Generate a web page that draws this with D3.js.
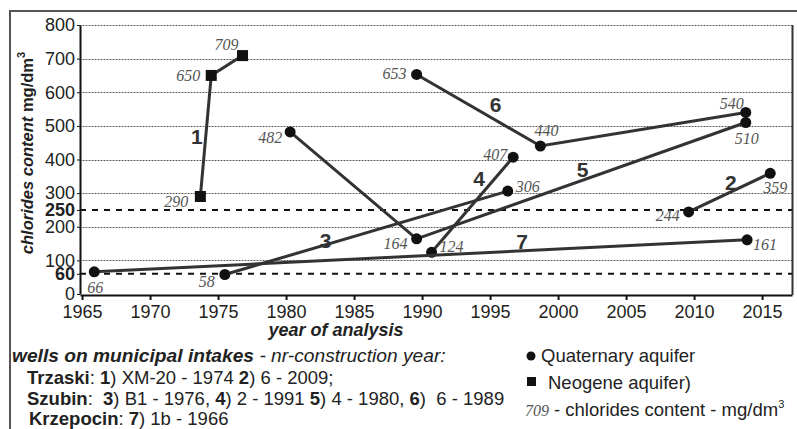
<!DOCTYPE html>
<html><head><meta charset="utf-8">
<script src="https://cdn.jsdelivr.net/npm/d3@7"></script>
<style>
body{margin:0;background:#fff;}
svg{display:block;}
text{font-family:"Liberation Sans",Arial,sans-serif;}
.val{font-family:"Liberation Serif","Times New Roman",serif;font-style:italic;fill:#555;font-size:16px;}
</style></head>
<body>
<svg id="chart" width="797" height="429"></svg>
<script>
// ---- data ----
const xTicks = [1965,1970,1975,1980,1985,1990,1995,2000,2005,2010,2015];
const yTicks = [0,100,200,300,400,500,600,700,800];
const limitLines = [60,250];
const seriesIds = ["1","2","3","4","5","6","7"];
const seriesAquifer = ["neogene","quaternary","quaternary","quaternary","quaternary","quaternary","quaternary"];
const s1Years = [1973.7,1974.5,1976.8], s1Values = [290,650,709];
const s2Years = [2009.6,2015.6],        s2Values = [244,359];
const s3Years = [1975.5,1996.3],        s3Values = [58,306];
const s4Years = [1990.7,1996.7],        s4Values = [124,407];
const s5Years = [1980.3,1989.6,2013.8], s5Values = [482,164,510];
const s6Years = [1989.6,1998.7,2013.8], s6Values = [653,440,540];
const s7Years = [1965.9,2013.9],        s7Values = [66,161];
// series number label anchors (year, value)
const numLabelYears  = [1973.45,2012.7,1982.9,1994.2,2001.8,1995.4,1997.35];
const numLabelValues = [467,330,160,342,369,562,155];

const allYears = [s1Years,s2Years,s3Years,s4Years,s5Years,s6Years,s7Years];
const allValues = [s1Values,s2Values,s3Values,s4Values,s5Values,s6Values,s7Values];
// value label placement offsets [dx, dy, anchor]
const labelOffsets = [
  [[-12,11,"end"],[-11,6,"end"],[-16,-6,"middle"]],
  [[-9,9,"end"],[5,20,"middle"]],
  [[-10,13,"end"],[8,1,"start"]],
  [[8,0,"start"],[-6,3,"end"]],
  [[-20,11,"middle"],[-9,10,"end"],[1,21,"middle"]],
  [[-10,5,"end"],[6,-10,"middle"],[-14,-3,"middle"]],
  [[-7,21,"start"],[6,10,"start"]]
];

const svg = d3.select("#chart");
const x = d3.scaleLinear().domain([1964.85,2017.2]).range([80,792]);
const y = d3.scaleLinear().domain([0,800]).range([294,25]);

// outer frame
svg.append("path").attr("d","M10,429 V11 H797").attr("fill","none").attr("stroke","#555").attr("stroke-width",2);

// gridlines: light solid base with darker dots on top
const gridVals = yTicks.filter(d=>d>0);
const gridG = svg.append("g");
gridG.selectAll("line.base").data(gridVals).join("line").attr("class","base")
  .attr("x1",x.range()[0]).attr("x2",x.range()[1])
  .attr("y1",d=>Math.round(y(d))+0.5).attr("y2",d=>Math.round(y(d))+0.5)
  .attr("stroke","#b5b5b5").attr("stroke-width",1);
gridG.selectAll("line.dots").data(gridVals).join("line").attr("class","dots")
  .attr("x1",x.range()[0]).attr("x2",x.range()[1])
  .attr("y1",d=>Math.round(y(d))+0.5).attr("y2",d=>Math.round(y(d))+0.5)
  .attr("stroke","#555").attr("stroke-width",1).attr("stroke-dasharray","1,2");
svg.append("g").selectAll("line").data(limitLines).join("line")
  .attr("x1",x.range()[0]).attr("x2",x.range()[1])
  .attr("y1",d=>y(d)).attr("y2",d=>y(d))
  .attr("stroke","#111").attr("stroke-width",2).attr("stroke-dasharray","6,6");

// axes
const xAxis = d3.axisBottom(x).tickValues(xTicks).tickFormat(d3.format("d")).tickSize(5).tickSizeOuter(0);
const gx = svg.append("g").attr("transform",`translate(0,${y(0)+1})`).call(xAxis);
gx.select(".domain").attr("stroke","#111").attr("stroke-width",2);
gx.selectAll(".tick line").attr("stroke","#111").attr("stroke-width",2);
gx.selectAll(".tick text").attr("font-size",18).attr("fill","#222").attr("dy","0.85em")
  .attr("font-family","Liberation Sans, Arial, sans-serif");

const yAxis = d3.axisLeft(y).tickValues(yTicks.concat(limitLines)).tickSize(3).tickSizeOuter(0).tickPadding(2);
const gy = svg.append("g").attr("transform",`translate(${x.range()[0]},0)`).call(yAxis);
gy.select(".domain").attr("stroke","#111").attr("stroke-width",2);
gy.selectAll(".tick line").attr("stroke","#111");
gy.selectAll(".tick text").attr("font-size",18).attr("fill","#222")
  .attr("font-family","Liberation Sans, Arial, sans-serif")
  .attr("font-weight",d=>limitLines.includes(d)?"bold":"normal");
// right border
svg.append("line").attr("x1",x.range()[1]+0.5).attr("x2",x.range()[1]+0.5).attr("y1",y(800)).attr("y2",y(0)+1)
  .attr("stroke","#333").attr("stroke-width",2);

// series
const line = d3.line().x(d=>x(d[0])).y(d=>y(d[1]));
allYears.forEach((yrs,i)=>{
  const pts = yrs.map((yr,j)=>[yr,allValues[i][j]]);
  const g = svg.append("g");
  g.append("path").attr("d",line(pts)).attr("fill","none").attr("stroke","#333").attr("stroke-width",3);
  if(seriesAquifer[i]==="neogene"){
    g.selectAll("rect").data(pts).join("rect")
      .attr("x",d=>x(d[0])-5.5).attr("y",d=>y(d[1])-5.5).attr("width",11).attr("height",11).attr("fill","#111");
  } else {
    g.selectAll("circle").data(pts).join("circle")
      .attr("cx",d=>x(d[0])).attr("cy",d=>y(d[1])).attr("r",5.5).attr("fill","#111");
  }
  g.selectAll("text").data(pts).join("text").attr("class","val")
    .attr("x",(d,j)=>x(d[0])+labelOffsets[i][j][0])
    .attr("y",(d,j)=>y(d[1])+labelOffsets[i][j][1])
    .attr("text-anchor",(d,j)=>labelOffsets[i][j][2])
    .text(d=>d[1]);
  svg.append("text").attr("x",x(numLabelYears[i])).attr("y",y(numLabelValues[i]))
    .attr("dy","0.35em").attr("text-anchor","middle")
    .attr("font-size",21).attr("font-weight","bold").attr("fill","#333").text(seriesIds[i]);
});

// axis titles
const yt = svg.append("text").attr("transform","translate(33,153) rotate(-90)")
  .attr("text-anchor","middle").attr("font-size",16.5).attr("font-weight","bold").attr("fill","#222");
yt.append("tspan").attr("font-style","italic").text("chlorides content");
yt.append("tspan").text(" mg/dm");
yt.append("tspan").attr("font-size",11).attr("dy","-8").text("3");

svg.append("text").attr("x",336).attr("y",336).attr("text-anchor","middle")
  .attr("font-size",18).attr("font-weight","bold").attr("font-style","italic").attr("fill","#222")
  .text("year of analysis");

// footer notes
const fs = 18.5;
const f1 = svg.append("text").attr("x",12).attr("y",362).attr("font-size",19.2).attr("fill","#222");
f1.append("tspan").attr("font-weight","bold").attr("font-style","italic").text("wells on municipal intakes");
f1.append("tspan").attr("font-style","italic").text(" - nr-construction year:");

function richLine(xp, yp, parts){
  const t = svg.append("text").attr("x",xp).attr("y",yp).attr("font-size",fs).attr("fill","#222").attr("xml:space","preserve");
  parts.forEach(p=>t.append("tspan").attr("font-weight",p[1]?"bold":"normal").text(p[0]));
}
richLine(27,384,[["Trzaski",1],[": ",0],["1",1],[") XM-20 - 1974 ",0],["2",1],[") 6 - 2009;",0]]);
richLine(27,405,[["Szubin",1],[":  ",0],["3",1],[") B1 - 1976, ",0],["4",1],[") 2 - 1991 ",0],["5",1],[") 4 - 1980, ",0],["6",1],[")  6 - 1989",0]]);
richLine(29,425,[["Krzepocin",1],[": ",0],["7",1],[") 1b - 1966",0]]);

// legend
svg.append("circle").attr("cx",531).attr("cy",362-6).attr("r",4.5).attr("fill","#111");
svg.append("text").attr("x",541).attr("y",362).attr("font-size",fs).attr("fill","#222").text("Quaternary aquifer");
svg.append("rect").attr("x",527).attr("y",389-12).attr("width",9).attr("height",9).attr("fill","#111");
svg.append("text").attr("x",548).attr("y",389).attr("font-size",fs).attr("fill","#222").text("Neogene aquifer)");
svg.append("text").attr("class","val").attr("x",525).attr("y",416).attr("font-size",15).text("709");
const lg = svg.append("text").attr("x",554).attr("y",416).attr("font-size",fs).attr("fill","#222");
lg.append("tspan").text("- chlorides content - mg/dm");
lg.append("tspan").attr("font-size",11).attr("dy","-8").text("3");
</script>
</body></html>
